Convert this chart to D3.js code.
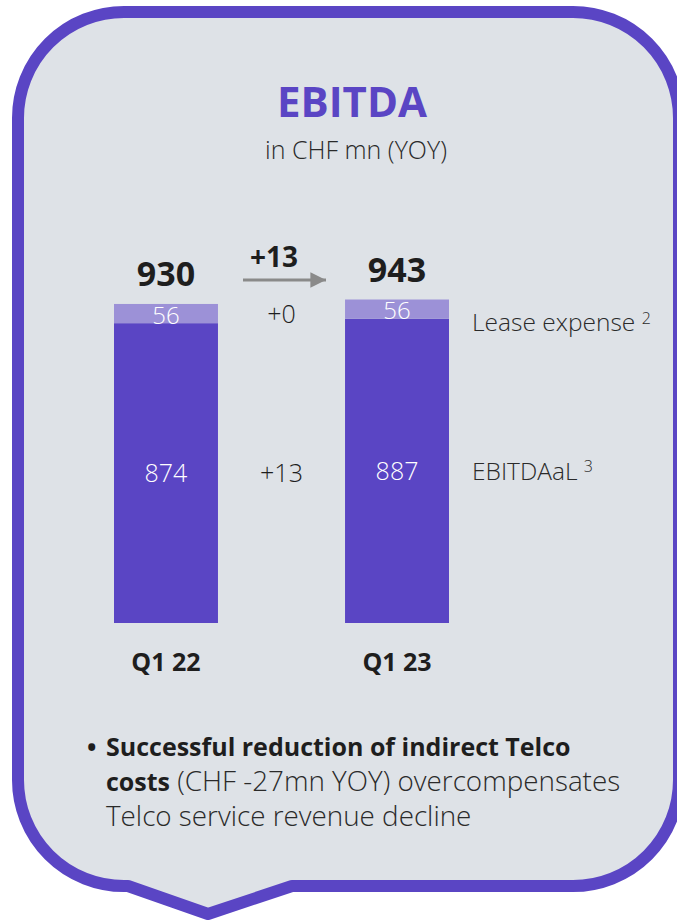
<!DOCTYPE html>
<html>
<head>
  <meta charset="utf-8">
  <title>EBITDA in CHF mn (YOY)</title>
  <script src="https://cdn.jsdelivr.net/npm/d3@7"></script>
  <style>
    html, body { margin: 0; padding: 0; background: #fff; }
    svg { display: block; font-family: "Open Sans", "Noto Sans", sans-serif; }
    .light { font-weight: 300; }
  </style>
</head>
<body>
<script>
  // data
  var categories = ["Q1 22", "Q1 23"];
  var ebitdaal = [874, 887];
  var lease = [56, 56];
  var totals = [930, 943];
  var leaseDelta = "+0";
  var ebitdaalDelta = "+13";
  var totalDelta = "+13";
  var segmentNames = ["Lease expense", "EBITDAaL"];
  var footnotes = ["2", "3"];

  var W = 677, H = 923;
  var purple = "#5a45c4", lilac = "#9c91d7", frameFill = "#dee2e7", ink = "#1e1e1e";

  var svg = d3.select("body").append("svg")
      .attr("width", W)
      .attr("height", H);

  // speech-bubble frame
  var L = 18, T = 12, R = 679, B = 886, r = 106;
  var frame = d3.path();
  frame.moveTo(L + r, T);
  frame.lineTo(R - r, T);
  frame.arcTo(R, T, R, T + r, r);
  frame.lineTo(R, B - r);
  frame.arcTo(R, B, R - r, B, r);
  frame.lineTo(292, B);
  frame.lineTo(208, 914);
  frame.lineTo(128, B);
  frame.lineTo(L + r, B);
  frame.arcTo(L, B, L, B - r, r);
  frame.lineTo(L, T + r);
  frame.arcTo(L, T, L + r, T, r);
  frame.closePath();
  svg.append("path")
      .attr("d", frame.toString())
      .attr("fill", frameFill)
      .attr("stroke", purple)
      .attr("stroke-width", 12)
      .attr("stroke-linejoin", "round");

  // titles
  svg.append("text")
      .attr("x", 352).attr("y", 117)
      .attr("text-anchor", "middle")
      .attr("font-size", 42).attr("font-weight", 700)
      .attr("fill", purple)
      .text("EBITDA");
  svg.append("text")
      .attr("class", "light")
      .attr("x", 356).attr("y", 159)
      .attr("text-anchor", "middle")
      .attr("font-size", 25)
      .attr("fill", "#2a2a2a")
      .text("in CHF mn (YOY)");

  // scales
  var x = d3.scaleBand()
      .domain(categories)
      .range([114, 449])
      .paddingInner(0.55)
      .paddingOuter(0);
  var y = d3.scaleLinear()
      .domain([0, 943])
      .range([623, 299.5]);

  var rows = categories.map(function (c, i) {
    return { cat: c, base: ebitdaal[i], lease: lease[i], total: totals[i] };
  });

  var g = svg.append("g");

  // EBITDAaL segment
  g.selectAll("rect.base").data(rows).join("rect")
      .attr("class", "base")
      .attr("x", function (d) { return x(d.cat); })
      .attr("width", x.bandwidth())
      .attr("y", function (d) { return y(d.base); })
      .attr("height", function (d) { return y(0) - y(d.base); })
      .attr("fill", purple);

  // lease segment stacked on top
  g.selectAll("rect.lease").data(rows).join("rect")
      .attr("class", "lease")
      .attr("x", function (d) { return x(d.cat); })
      .attr("width", x.bandwidth())
      .attr("y", function (d) { return y(d.base + d.lease); })
      .attr("height", function (d) { return y(d.base) - y(d.base + d.lease); })
      .attr("fill", lilac);

  var cx = function (d) { return x(d.cat) + x.bandwidth() / 2; };

  // in-bar labels
  g.selectAll("text.baseLbl").data(rows).join("text")
      .attr("class", "baseLbl light")
      .attr("x", cx)
      .attr("y", function (d) { return y(d.base / 2); })
      .attr("dy", "0.36em")
      .attr("text-anchor", "middle")
      .attr("font-size", 25)
      .attr("fill", "#fff")
      .text(function (d) { return d.base; });
  g.selectAll("text.leaseLbl").data(rows).join("text")
      .attr("class", "leaseLbl light")
      .attr("x", cx)
      .attr("y", function (d) { return y(d.base + d.lease / 2); })
      .attr("dy", "0.42em")
      .attr("text-anchor", "middle")
      .attr("font-size", 24)
      .attr("fill", "#fff")
      .text(function (d) { return d.lease; });

  // totals on top
  g.selectAll("text.total").data(rows).join("text")
      .attr("class", "total")
      .attr("x", cx)
      .attr("y", function (d) { return y(d.total) - 18; })
      .attr("text-anchor", "middle")
      .attr("font-size", 34).attr("font-weight", 700)
      .attr("fill", ink)
      .text(function (d) { return d.total; });

  // category labels
  g.selectAll("text.cat").data(rows).join("text")
      .attr("class", "cat")
      .attr("x", cx)
      .attr("y", 671)
      .attr("text-anchor", "middle")
      .attr("font-size", 25).attr("font-weight", 700)
      .attr("fill", ink)
      .text(function (d) { return d.cat; });

  // deltas between the bars
  var midX = (x(categories[0]) + x.bandwidth() + x(categories[1])) / 2;
  g.append("text")
      .attr("class", "light")
      .attr("x", midX).attr("y", y(rows[0].base + rows[0].lease / 2))
      .attr("dy", "0.36em")
      .attr("text-anchor", "middle")
      .attr("font-size", 25).attr("fill", ink)
      .text(leaseDelta);
  g.append("text")
      .attr("class", "light")
      .attr("x", midX).attr("y", y(rows[0].base / 2))
      .attr("dy", "0.36em")
      .attr("text-anchor", "middle")
      .attr("font-size", 25).attr("fill", ink)
      .text(ebitdaalDelta);

  // total change arrow
  svg.append("defs").append("marker")
      .attr("id", "arrow")
      .attr("viewBox", "0 0 10 10")
      .attr("refX", 10).attr("refY", 5)
      .attr("markerWidth", 5.2).attr("markerHeight", 5.2)
      .attr("markerUnits", "strokeWidth")
      .attr("orient", "auto")
      .append("path")
      .attr("d", "M0,0L10,5L0,10Z")
      .attr("fill", "#8a8a8a");
  g.append("line")
      .attr("x1", 243).attr("x2", 326)
      .attr("y1", 280).attr("y2", 280)
      .attr("stroke", "#8a8a8a")
      .attr("stroke-width", 3)
      .attr("marker-end", "url(#arrow)");
  g.append("text")
      .attr("x", 274).attr("y", 267)
      .attr("text-anchor", "middle")
      .attr("font-size", 28).attr("font-weight", 700)
      .attr("fill", ink)
      .text(totalDelta);

  // segment names at right
  var segY = [y(rows[1].base + rows[1].lease / 2) + 13, y(rows[1].base / 2)];
  segmentNames.forEach(function (name, i) {
    var t = g.append("text")
        .attr("class", "light")
        .attr("x", 472).attr("y", segY[i])
        .attr("dy", "0.36em")
        .attr("font-size", 24.5).attr("fill", "#2a2a2a")
        .text(name + " ");
    t.append("tspan")
        .attr("dy", "-0.45em")
        .attr("font-size", 16)
        .text(footnotes[i]);
  });

  // commentary bullet
  var note = svg.append("g").attr("font-size", 25).attr("fill", ink);
  note.append("text").attr("x", 87).attr("y", 756).attr("font-weight", 700).text("\u2022");
  note.append("text").attr("x", 106).attr("y", 756).attr("font-weight", 700)
      .text("Successful reduction of indirect Telco");
  var l2 = note.append("text").attr("x", 106).attr("y", 791);
  l2.append("tspan").attr("font-weight", 700).text("costs");
  l2.append("tspan").attr("class", "light").attr("fill", "#2a2a2a").attr("font-size", 27.8)
      .text(" (CHF -27mn YOY) overcompensates");
  note.append("text").attr("class", "light").attr("x", 106).attr("y", 826)
      .attr("fill", "#2a2a2a").attr("font-size", 27.8)
      .text("Telco service revenue decline");
</script>
</body>
</html>
